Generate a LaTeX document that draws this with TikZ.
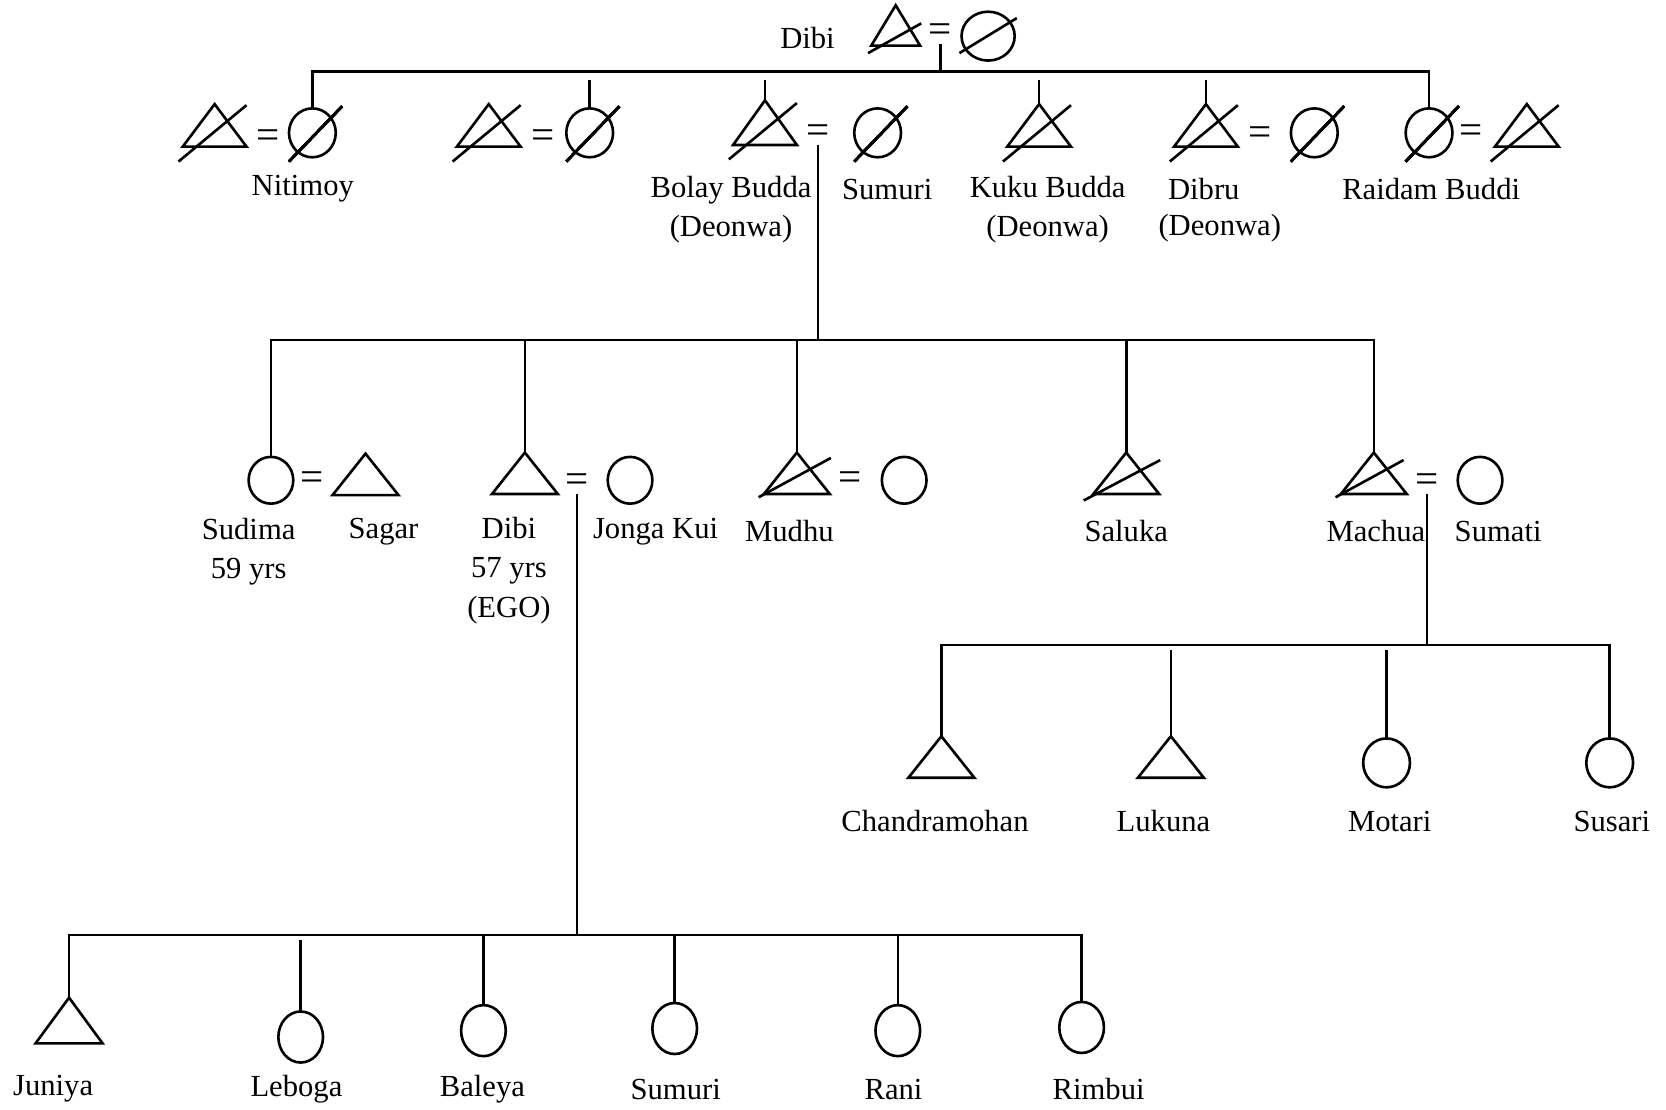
\documentclass[tikz,border=0pt]{standalone}
\usepackage{fontspec}
\setmainfont{Liberation Serif}
\usetikzlibrary{shapes.geometric}

\tikzset{
  male/.style={draw, isosceles triangle, isosceles triangle stretches, shape border rotate=90,
    inner sep=0pt, outer sep=0pt, minimum width=0.62cm, minimum height=0.39cm},
  female/.style={draw, ellipse, inner sep=0pt, outer sep=0pt, minimum width=0.44cm, minimum height=0.46cm},
  marr/.style={inner sep=0pt, font=\fontsize{11}{11}\selectfont},
  lbl/.style={inner sep=0pt, align=center, font=\fontsize{8.2}{10.5}\selectfont},
}
% slash through a dead person: node, start shift, end shift
\newcommand{\crossed}[5]{\draw ([shift={(#2,#3)}]#1.center) -- ([shift={(#4,#5)}]#1.center);}

\begin{document}
\begin{tikzpicture}[x=0.01cm, y=-0.01cm, line width=0.7pt]
\useasboundingbox (0,0) rectangle (1568,1044);

% generation I
\node[male, minimum width=0.46cm, minimum height=0.38cm] (gm) at (843,30) {};
\node[marr] (gq) at (885,31) {=};
\node[female, minimum width=0.50cm] (gf) at (930,34) {};
\node[lbl] (dibitop) at (760,36) {Dibi};
\crossed{gm}{-26}{20}{24}{-8}
\crossed{gf}{-27}{16}{27}{-17}
\coordinate (bar1l) at (294,67);
\coordinate (bar1r) at (1345,67);
\draw (gq.south) -- (gq.south |- bar1l);

% generation II
\node[male, minimum width=0.60cm, minimum height=0.40cm] (a1h) at (202,123) {};
\node[marr] (a1q) at (252,131) {=};
\node[female] (a1w) at (294,125) {};
\node[male, minimum width=0.60cm, minimum height=0.40cm] (a2h) at (460,123) {};
\node[marr] (a2q) at (511,131) {=};
\node[female] (a2w) at (555,125) {};
\node[male, minimum width=0.60cm, minimum height=0.42cm] (a3h) at (720,121) {};
\node[marr] (a3q) at (770,126) {=};
\node[female] (a3w) at (826,125) {};
\node[male, minimum width=0.60cm, minimum height=0.40cm] (a4h) at (978,123) {};
\node[male, minimum width=0.60cm, minimum height=0.40cm] (a5h) at (1135,123) {};
\node[marr] (a5q) at (1186,128) {=};
\node[female] (a5w) at (1237,125) {};
\node[female] (a6w) at (1345,125) {};
\node[marr] (a6q) at (1385,126) {=};
\node[male, minimum width=0.60cm, minimum height=0.40cm] (a6h) at (1437,123) {};
\foreach \n in {a1h,a2h,a3h,a4h,a5h,a6h}
  \crossed{\n}{-34}{29}{30}{-24}
\foreach \n in {a1w,a2w,a3w,a5w,a6w}
  \crossed{\n}{-22}{27}{28}{-25}
\draw (a1w.north) -- (bar1l) -- (bar1r) -- (a6w.north);
\foreach \n in {a2w,a3h,a4h,a5h}
  \draw (\n.north) -- ([yshift=-0.08cm]\n.north |- bar1l);

\node[lbl] (nitimoy) at (285,178) {Nitimoy};
\node[lbl] (bolay) at (688,197) {Bolay Budda\\(Deonwa)};
\node[lbl] (sumuri1) at (835,178) {Sumuri};
\node[lbl] (kuku) at (986,197) {Kuku Budda\\(Deonwa)};
\node[lbl] (dibru) at (1133,178) {Dibru};
\node[lbl] (dibrud) at (1148,215) {(Deonwa)};
\node[lbl] (raidam) at (1347,178) {Raidam Buddi};

% generation III
\coordinate (bar2l) at (255,320);
\coordinate (bar2r) at (1293,320);
\draw (a3q.south) -- (a3q.south |- bar2l);
\node[female, minimum width=0.42cm, minimum height=0.44cm] (b1w) at (255,452) {};
\node[marr] (b1q) at (294,453) {=};
\node[male] (b1h) at (344,451) {};
\node[male] (b2h) at (494,450) {};
\node[marr] (b2q) at (543,455) {=};
\node[female, minimum width=0.42cm, minimum height=0.44cm] (b2w) at (593,452) {};
\node[male] (b3h) at (750,450) {};
\node[marr] (b3q) at (800,453) {=};
\node[female, minimum width=0.42cm, minimum height=0.44cm] (b3w) at (851,452) {};
\node[male] (b4h) at (1060,450) {};
\node[male] (b5h) at (1293,450) {};
\node[marr] (b5q) at (1343,455) {=};
\node[female, minimum width=0.42cm, minimum height=0.44cm] (b5w) at (1393,452) {};
\crossed{b3h}{-36}{18}{32}{-19}
\crossed{b4h}{-40}{21}{32}{-17}
\crossed{b5h}{-36}{18}{28}{-17}
\draw (b1w.north) -- (bar2l) -- (bar2r) -- (b5h.north);
\foreach \n in {b2h,b3h,b4h}
  \draw (\n.north) -- (\n.north |- bar2l);

\node[lbl] (sudima) at (234,519) {Sudima\\59 yrs};
\node[lbl] (sagar) at (361,500) {Sagar};
\node[lbl] (ego) at (479,537) {Dibi\\57 yrs\\(EGO)};
\node[lbl] (jonga) at (617,500) {Jonga Kui};
\node[lbl] (mudhu) at (743,500) {Mudhu};
\node[lbl] (saluka) at (1060,500) {Saluka};
\node[lbl] (machua) at (1295,500) {Machua};
\node[lbl] (sumati) at (1410,500) {Sumati};

% generation IV, children of Machua
\coordinate (bar3l) at (886,607);
\coordinate (bar3r) at (1515,607);
\draw (b5q.south) -- (b5q.south |- bar3l);
\node[male] (c1h) at (886,717) {};
\node[male] (c2h) at (1102,717) {};
\node[female] (c3w) at (1305,718) {};
\node[female] (c4w) at (1515,718) {};
\draw (c1h.north) -- (bar3l) -- (bar3r) -- (c4w.north);
\foreach \n in {c2h,c3w}
  \draw (\n.north) -- ([yshift=-0.05cm]\n.north |- bar3l);

\node[lbl] (chandra) at (880,773) {Chandramohan};
\node[lbl] (lukuna) at (1095,773) {Lukuna};
\node[lbl] (motari) at (1308,773) {Motari};
\node[lbl] (susari) at (1517,773) {Susari};

% generation IV, children of ego
\coordinate (bar4l) at (65,880);
\coordinate (bar4r) at (1018,880);
\draw (b2q.south) -- (b2q.south |- bar4l);
\node[male, minimum width=0.63cm, minimum height=0.43cm] (d1h) at (65,966) {};
\node[female, minimum width=0.42cm, minimum height=0.48cm] (d2w) at (283,976) {};
\node[female, minimum width=0.42cm, minimum height=0.48cm] (d3w) at (455,970) {};
\node[female, minimum width=0.42cm, minimum height=0.48cm] (d4w) at (635,968) {};
\node[female, minimum width=0.42cm, minimum height=0.48cm] (d5w) at (845,970) {};
\node[female, minimum width=0.42cm, minimum height=0.48cm] (d6w) at (1018,967) {};
\draw (d1h.north) -- (bar4l) -- (bar4r) -- (d6w.north);
\draw (d2w.north) -- ([yshift=-0.05cm]d2w.north |- bar4l);
\foreach \n in {d3w,d4w,d5w}
  \draw (\n.north) -- (\n.north |- bar4l);

\node[lbl] (juniya) at (50,1025) {Juniya};
\node[lbl] (leboga) at (279,1025) {Leboga};
\node[lbl] (baleya) at (454,1025) {Baleya};
\node[lbl] (sumuri2) at (636,1025) {Sumuri};
\node[lbl] (rani) at (841,1025) {Rani};
\node[lbl] (rimbui) at (1034,1025) {Rimbui};
\end{tikzpicture}
\end{document}
